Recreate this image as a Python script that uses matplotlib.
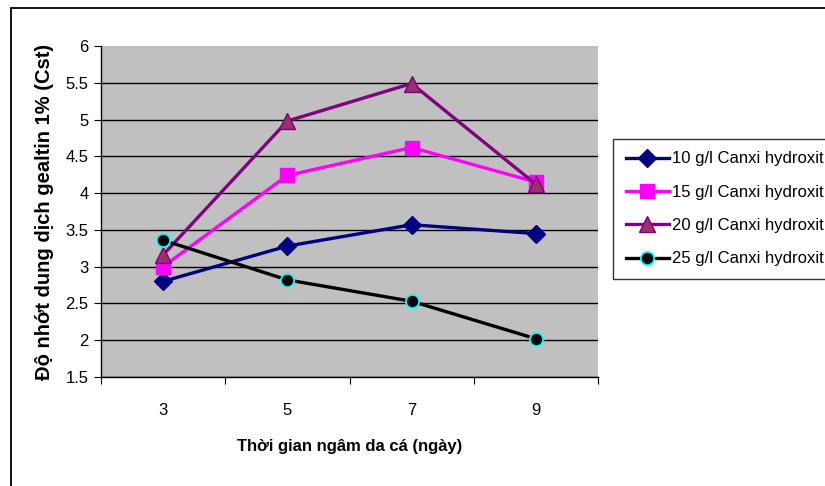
import matplotlib
matplotlib.use('Agg')
import matplotlib.pyplot as plt
from matplotlib.patches import Rectangle

plt.rcParams['font.family'] = ['Liberation Sans', 'DejaVu Sans']

# data
days = ['3', '5', '7', '9']
ca10 = [2.80, 3.28, 3.57, 3.45]
ca15 = [3.00, 4.24, 4.62, 4.15]
ca20 = [3.16, 4.98, 5.49, 4.12]
ca25 = [3.36, 2.82, 2.53, 2.02]
labels = ['10 g/l Canxi hydroxit', '15 g/l Canxi hydroxit',
          '20 g/l Canxi hydroxit', '25 g/l Canxi hydroxit']
yticks = [1.5, 2, 2.5, 3, 3.5, 4, 4.5, 5, 5.5, 6]

fig = plt.figure(figsize = (8.25, 4.86), dpi = 100)
fig.patches.append(Rectangle((11 / 825, -0.1), 1.2, 1 - 8 / 486 + 0.1,
                             transform = fig.transFigure, fill = False,
                             edgecolor = 'black', linewidth = 1.3))

ax = fig.add_axes([101 / 825, 1 - 377 / 486, 497 / 825, 331 / 486])
ax.set_facecolor('#C0C0C0')

x = range(len(days))
ax.plot(x, ca10, color = '#000080', linewidth = 2.4, marker = 'D', markersize = 9,
        markerfacecolor = '#000080', markeredgecolor = '#000080', label = labels[0], zorder = 3)
ax.plot(x, ca15, color = '#FF00FF', linewidth = 2.4, marker = 's', markersize = 10,
        markerfacecolor = '#FF00FF', markeredgecolor = '#FF00FF', label = labels[1], zorder = 3)
ax.plot(x, ca20, color = '#800080', linewidth = 2.4, marker = '^', markersize = 12,
        markerfacecolor = '#993366', markeredgecolor = '#800080', label = labels[2], zorder = 3)
ax.plot(x, ca25, color = 'black', linewidth = 2.4, marker = 'o', markersize = 9.5,
        markerfacecolor = 'black', markeredgecolor = '#00FFFF', markeredgewidth = 1.3,
        label = labels[3], zorder = 3)

# axes
ax.set_xlim(-0.5, 3.5)
ax.set_ylim(1.5, 6)
ax.set_yticks(yticks)
ax.set_yticklabels([f'{v:g}' for v in yticks], fontsize = 12)
ax.set_xticks([-0.5, 0.5, 1.5, 2.5, 3.5])
ax.set_xticklabels([])
ax.set_xticks(list(x), minor = True)
ax.set_xticklabels(days, minor = True, fontsize = 12)
ax.tick_params(axis = 'x', which = 'minor', length = 0, pad = 19)
ax.tick_params(axis = 'x', which = 'major', length = 5, direction = 'out')
ax.tick_params(axis = 'y', length = 5, direction = 'out', pad = 4)
ax.yaxis.grid(True, color = 'black', linewidth = 1)
ax.set_axisbelow(True)
ax.yaxis.get_gridlines()[-1].set_visible(False)
for s in ['top', 'right']:
    ax.spines[s].set_visible(False)
for s in ['left', 'bottom']:
    ax.spines[s].set_linewidth(1)

ax.set_xlabel('Thời gian ngâm da cá (ngày)', fontsize = 12, fontweight = 'bold', labelpad = 15)
ax.set_ylabel('Độ nhớt dung dịch gealtin 1% (Cst)', fontsize = 14.5, fontweight = 'bold', labelpad = 8)

leg = fig.legend(loc = 'upper left', bbox_to_anchor = (613 / 825, 1 - 139 / 486),
                 fontsize = 12, frameon = True, fancybox = False, edgecolor = 'black',
                 handlelength = 2.6, handletextpad = 0.2, borderpad = 0.75,
                 labelspacing = 1.1, borderaxespad = 0)
leg.get_frame().set_linewidth(1)

plt.savefig('out.png', dpi = 100)
